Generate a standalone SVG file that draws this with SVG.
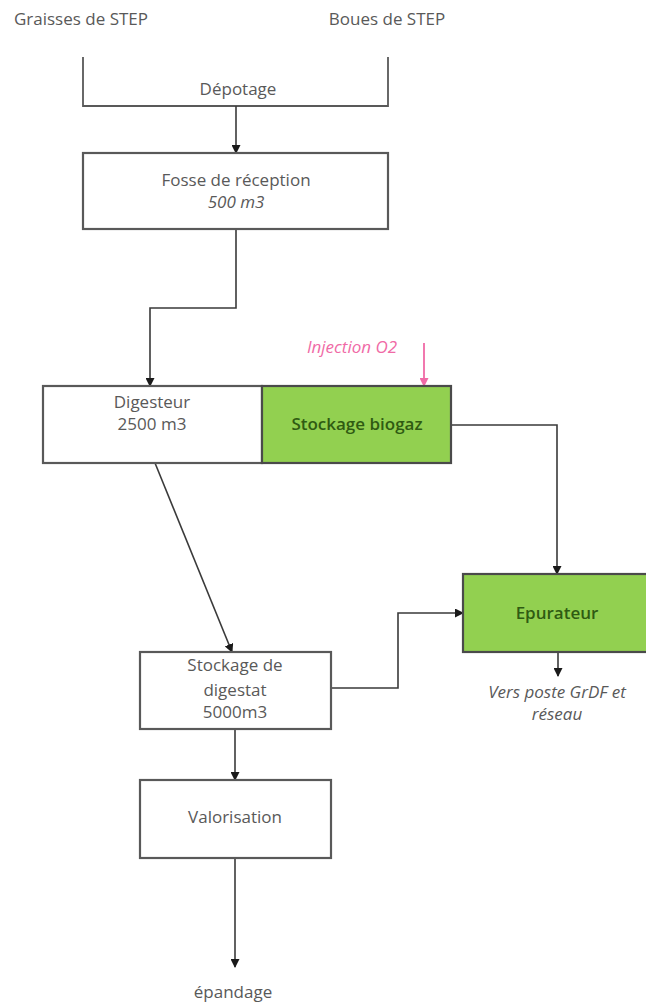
<svg xmlns="http://www.w3.org/2000/svg" width="646" height="1007" viewBox="0 0 646 1007">
<style>
text{font-family:"Open Sans","Liberation Sans",sans-serif;font-size:17px;fill:#595959;text-anchor:middle}
.it{font-style:italic}
.g{fill:#2f5b12;font-weight:600}
.pk{fill:#f06aa6}
.box{fill:#fff;stroke:#595959;stroke-width:2.2}
.gbox{fill:#92d050;stroke:#4a4a4a;stroke-width:2.2}
.ln{fill:none;stroke:#595959;stroke-width:1.8}
.ar{fill:none;stroke:#3a3a3a;stroke-width:1.6;marker-end:url(#ah)}
</style>
<defs>
<marker id="ah" markerWidth="9" markerHeight="9" refX="8" refY="4.5" orient="auto" markerUnits="userSpaceOnUse"><path d="M0,0 L9,4.5 L0,9 Z" fill="#1a1a1a"/></marker>
<marker id="ahp" markerWidth="9" markerHeight="9" refX="8" refY="4.5" orient="auto" markerUnits="userSpaceOnUse"><path d="M0,0 L9,4.5 L0,9 Z" fill="#f06aa6"/></marker>
</defs>
<g id="sources">
<text x="81" y="25">Graisses de STEP</text>
<text x="387" y="25">Boues de STEP</text>
</g>
<g id="depotage">
<path class="ln" d="M83,57 V106 H388 V57"/>
<text x="238" y="95">Dépotage</text>
</g>
<g id="connectors">
<path class="ar" d="M236,106 V153"/>
<path class="ar" d="M236,229 V308 H150 V386"/>
<path d="M424,343 V386" fill="none" stroke="#f06aa6" stroke-width="1.8" marker-end="url(#ahp)"/>
<path class="ar" d="M451,425 H557 V574"/>
<path class="ar" d="M155,463 L232,652"/>
<path class="ar" d="M331,688 H398 V613 H463"/>
<path class="ar" d="M558,652 V676"/>
<path class="ar" d="M235,729 V780"/>
<path class="ar" d="M235,858 V967"/>
</g>
<g id="fosse">
<rect class="box" x="83" y="153" width="305" height="76"/>
<text x="236" y="186">Fosse de réception</text>
<text class="it" x="236" y="208">500 m3</text>
</g>
<g id="injection">
<text class="it pk" x="352" y="353">Injection O2</text>
</g>
<g id="digesteur">
<rect class="box" x="43" y="386" width="219" height="77"/>
<text x="152" y="408">Digesteur</text>
<text x="152" y="430">2500 m3</text>
</g>
<g id="biogaz">
<rect class="gbox" x="262" y="386" width="189" height="77"/>
<text class="g" x="357" y="430">Stockage biogaz</text>
</g>
<g id="epurateur">
<rect class="gbox" x="463" y="574" width="192" height="78"/>
<text class="g" x="557" y="619">Epurateur</text>
</g>
<g id="vers">
<text class="it" x="557" y="698">Vers poste GrDF et</text>
<text class="it" x="557" y="720">réseau</text>
</g>
<g id="digestat">
<rect class="box" x="140" y="652" width="191" height="77"/>
<text x="235" y="671">Stockage de</text>
<text x="235" y="696">digestat</text>
<text x="235" y="718">5000m3</text>
</g>
<g id="valorisation">
<rect class="box" x="140" y="780" width="191" height="78"/>
<text x="235" y="823">Valorisation</text>
</g>
<g id="epandage">
<text x="233" y="998">épandage</text>
</g>
</svg>
